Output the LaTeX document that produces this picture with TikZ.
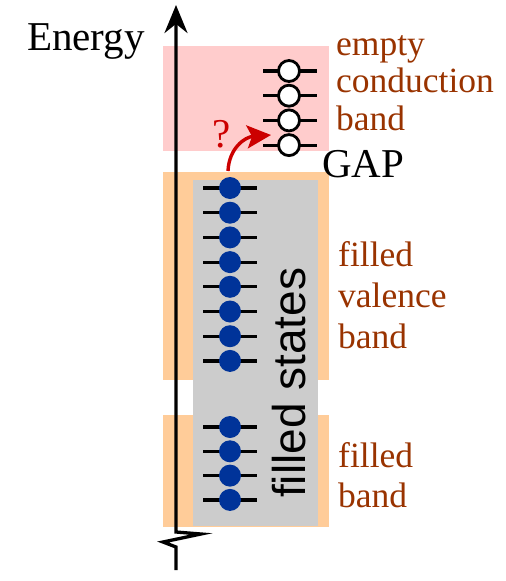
\documentclass[tikz,border=0pt]{standalone}
\usepackage{fontspec}
\setmainfont{Liberation Serif}
\setsansfont{Liberation Sans}
\usetikzlibrary{arrows.meta}
\definecolor{bandbrown}{RGB}{153,51,0}
\definecolor{condpink}{RGB}{255,204,204}
\definecolor{valorange}{RGB}{255,204,153}
\definecolor{stategray}{RGB}{204,204,204}
\definecolor{dotblue}{RGB}{0,51,153}
\definecolor{jumpred}{RGB}{204,0,0}

\begin{document}
\begin{tikzpicture}[x=1pt,y=-1pt,
    level/.style={line width=3.2pt},
    fullstate/.style={circle,fill=dotblue,minimum size=22pt,inner sep=0pt},
    emptystate/.style={circle,draw=black,fill=white,line width=2.8pt,minimum size=21pt,inner sep=0pt},
    bandlabel/.style={text=bandbrown,align=left,anchor=base west,inner sep=0pt}]
        \useasboundingbox (0,0) rectangle (506,581);

        % Bands
        \fill[condpink] (163,46) rectangle (329,151);
        \fill[valorange] (163,172) rectangle (329,380);
        \fill[valorange] (163,415) rectangle (329,527);
        \fill[stategray] (193,180) rectangle (318,526);
        \node[rotate=90, anchor=base west, inner sep=0pt, font=\sffamily\fontsize{46}{46}\selectfont] (fs) at (305,498) {filled states};

        % Energy axis with break
        \coordinate (axbot) at (176,570);
        \coordinate (axtop) at (176,5);
        \draw[line width=3.3pt, -{Stealth[length=28pt,width=23pt]}] (axbot) -- ++(0,-23) -- ++(-13,-5) -- ++(38,-8) -- ++(-25,-2) -- (axtop);
        \node[anchor=base west, inner sep=0pt, font=\fontsize{41}{41}\selectfont] (energy) at (27,50) {Energy};

        % Filled levels
        \foreach \i in {0,...,7} {
            \draw[level] (203,{188+24.7*\i}) -- (257,{188+24.7*\i});
            \node[fullstate] (v\i) at (230,{188+24.7*\i}) {};
        }
        \foreach \i in {0,...,3} {
            \draw[level] (203,{427+24.3*\i}) -- (257,{427+24.3*\i});
            \node[fullstate] (b\i) at (230,{427+24.3*\i}) {};
        }

        % Empty levels
        \foreach \i in {0,...,3} {
            \draw[level] (263,{71+24.7*\i}) -- (317,{71+24.7*\i});
            \node[emptystate] (c\i) at (289,{71+24.7*\i}) {};
        }

        % Jump across the gap
        \coordinate (jump) at (228,171);
        \coordinate (land) at (271,135);
        \draw[jumpred, line width=3.4pt, -{Stealth[length=24pt,width=23pt,inset=5pt]}] (jump) .. controls (229,148) and (245,137) .. (land);
        \node[text=jumpred, inner sep=0pt, font=\fontsize{41}{41}\selectfont] (q) at (222,134) {?};
        \node[anchor=base west, inner sep=0pt, font=\fontsize{41}{41}\selectfont] (gap) at (322,177) {GAP};

        % Labels
        \node[bandlabel, font=\fontsize{35.5}{37.5}\selectfont] (cond) at (336,130) {empty\\conduction\\band};
        \node[bandlabel, font=\fontsize{35.5}{41}\selectfont] (val) at (338,348) {filled\\valence\\band};
        \node[bandlabel, font=\fontsize{35.5}{40}\selectfont] (low) at (338,507) {filled\\band};
    \end{tikzpicture}
\end{document}
